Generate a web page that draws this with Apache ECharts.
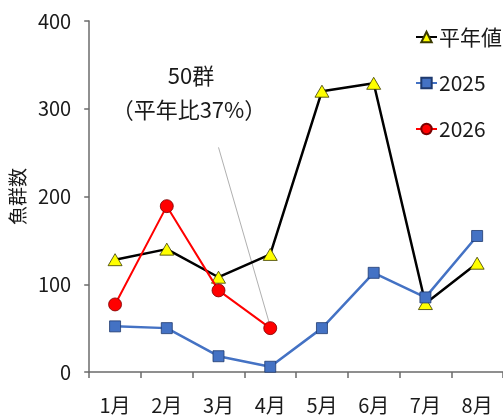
<!DOCTYPE html>
<html>
<head>
<meta charset="utf-8">
<script src="https://cdn.jsdelivr.net/npm/echarts@6/dist/echarts.min.js"></script>
<style>
html,body{margin:0;padding:0;background:#fff;}
#chart{width:503px;height:419px;}
</style>
</head>
<body>
<div id="chart"></div>
<script>
// 月別の魚群数
const months = ['1月', '2月', '3月', '4月', '5月', '6月', '7月', '8月'];
const normalValues = [128, 140, 108, 134, 320, 329, 78, 124];
const values2025 = [52, 50, 18, 6, 50, 113, 85, 155];
const values2026 = [77, 189, 93, 50, null, null, null, null];
const yTicks = [0, 100, 200, 300, 400];

const FONT = '"Noto Sans CJK JP", "Noto Sans", sans-serif';
const TEXT = '#1a1a1a';
const chart = echarts.init(document.getElementById('chart'), null, { renderer: 'canvas' });

chart.setOption({
  animation: false,
  backgroundColor: '#fff',
  textStyle: { fontFamily: FONT },
  grid: { left: 86, top: 21, right: 0, bottom: 47, containLabel: false },
  legend: {
    orient: 'vertical',
    left: 410,
    top: 21,
    itemWidth: 21,
    itemHeight: 13,
    itemGap: 24,
    textStyle: { fontFamily: FONT, fontSize: 21, color: TEXT, lineHeight: 22, padding: [0, 0, 0, -3] },
    data: ['平年値', '2025', '2026']
  },
  xAxis: {
    type: 'category',
    data: months,
    boundaryGap: true,
    axisLine: { lineStyle: { color: '#6b6b6b', width: 1.5 } },
    axisTick: { show: true, length: 6, lineStyle: { color: '#6b6b6b', width: 1.5 } },
    axisLabel: { fontFamily: FONT, fontSize: 20, color: TEXT, margin: 23 },
    splitLine: { show: false }
  },
  yAxis: {
    type: 'value',
    min: yTicks[0],
    max: yTicks[yTicks.length - 1],
    interval: 100,
    name: '魚群数',
    nameLocation: 'middle',
    nameGap: 58,
    nameRotate: 90,
    nameTextStyle: { fontFamily: FONT, fontSize: 19, color: TEXT },
    axisLine: { show: true, lineStyle: { color: '#6b6b6b', width: 1.5 } },
    axisTick: { show: true, length: 5, lineStyle: { color: '#6b6b6b', width: 1.5 } },
    axisLabel: { fontFamily: FONT, fontSize: 20, color: TEXT, margin: 18 },
    splitLine: { show: false }
  },
  graphic: [
    {
      type: 'text', x: 191, y: 76,
      style: { text: '50群', fontFamily: FONT, fontSize: 22, fill: TEXT, align: 'center', verticalAlign: 'middle' }
    },
    {
      type: 'text', x: 189, y: 110,
      style: { text: '（平年比37%）', fontFamily: FONT, fontSize: 22, fill: TEXT, align: 'center', verticalAlign: 'middle' }
    }
  ],
  series: [
    {
      name: '平年値',
      type: 'line',
      data: normalValues,
      z: 2,
      symbol: 'triangle',
      symbolSize: [14, 12],
      lineStyle: { color: '#000', width: 2.5 },
      itemStyle: { color: '#ffff00', borderColor: '#3a3a00', borderWidth: 0.8 }
    },
    {
      name: '2025',
      type: 'line',
      data: values2025,
      z: 3,
      symbol: 'rect',
      symbolSize: 11,
      lineStyle: { color: '#4472c4', width: 2.5 },
      itemStyle: { color: '#4472c4', borderColor: '#1f3a6e', borderWidth: 0.8 }
    },
    {
      name: '2026',
      type: 'line',
      data: values2026,
      z: 4,
      symbol: 'circle',
      symbolSize: 13,
      lineStyle: { color: '#ff0000', width: 2 },
      itemStyle: { color: '#ff0000', borderColor: '#7a0000', borderWidth: 0.8 },
      markLine: {
        silent: true,
        symbol: ['none', 'none'],
        z: 1,
        lineStyle: { color: '#b0b0b0', width: 1, type: 'solid' },
        label: { show: false },
        data: [[{ coord: [1.55, 256] }, { coord: ['4月', 52] }]]
      }
    }
  ]
});
</script>
</body>
</html>
